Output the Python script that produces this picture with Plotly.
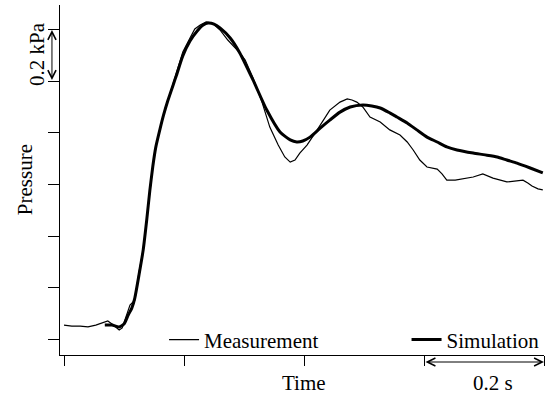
import plotly.graph_objects as go

# Measurement (time in s, pressure in kPa relative)
meas_t = [0.000, 0.013, 0.027, 0.040, 0.053, 0.065, 0.073, 0.080, 0.087, 0.092, 0.097, 0.103,
          0.110, 0.118, 0.125, 0.132, 0.138, 0.143, 0.148, 0.153, 0.160, 0.166, 0.173, 0.187,
          0.198, 0.210,
          0.218, 0.227, 0.237, 0.247, 0.260, 0.273, 0.285, 0.293, 0.302, 0.315, 0.330, 0.343,
          0.357, 0.368, 0.377, 0.385, 0.393, 0.405, 0.422, 0.443, 0.460, 0.472, 0.480, 0.488,
          0.498, 0.510, 0.527, 0.543, 0.560, 0.572, 0.582, 0.593, 0.605, 0.622, 0.630, 0.638,
          0.652, 0.665, 0.682, 0.698, 0.715, 0.738, 0.765, 0.773, 0.780, 0.790, 0.798]
meas_p = [0.054, 0.050, 0.050, 0.047, 0.054, 0.062, 0.070, 0.058, 0.043, 0.035, 0.043, 0.082,
          0.132, 0.151, 0.260, 0.346, 0.465, 0.575, 0.670, 0.745, 0.815, 0.870, 0.925, 1.029,
          1.115, 1.169,
          1.204, 1.219, 1.231, 1.227, 1.200, 1.161, 1.130, 1.111, 1.083, 1.014, 0.920, 0.823,
          0.753, 0.707, 0.687, 0.695, 0.722, 0.753, 0.812, 0.889, 0.920, 0.932, 0.928, 0.920,
          0.901, 0.862, 0.843, 0.812, 0.792, 0.765, 0.734, 0.695, 0.668, 0.660, 0.641, 0.617,
          0.617, 0.621, 0.629, 0.641, 0.625, 0.610, 0.617, 0.606, 0.594, 0.583, 0.579]

# Simulation
sim_t = [0.068, 0.080, 0.092, 0.100, 0.107, 0.113, 0.118, 0.125, 0.132, 0.138, 0.143, 0.148,
         0.153, 0.160, 0.166, 0.173, 0.187, 0.198, 0.210, 0.222, 0.232, 0.240, 0.250, 0.260,
         0.277, 0.293,
         0.315, 0.338, 0.360, 0.377, 0.388, 0.398, 0.410, 0.427, 0.443, 0.460, 0.477, 0.498,
         0.513, 0.527, 0.543, 0.555, 0.572, 0.588, 0.605, 0.622, 0.638, 0.655, 0.682, 0.702,
         0.722, 0.738, 0.755, 0.777, 0.798]
sim_p = [0.054, 0.054, 0.047, 0.058, 0.093, 0.120, 0.159, 0.249, 0.346, 0.465, 0.575, 0.670,
         0.745, 0.815, 0.870, 0.925, 1.021, 1.099, 1.157, 1.196, 1.219, 1.227, 1.223, 1.208,
         1.169, 1.111,
         1.006, 0.889, 0.804, 0.773, 0.765, 0.769, 0.784, 0.819, 0.850, 0.881, 0.901, 0.909,
         0.905, 0.897, 0.878, 0.862, 0.839, 0.812, 0.784, 0.765, 0.746, 0.734, 0.722, 0.715,
         0.707, 0.695, 0.683, 0.664, 0.645]

x_ticks = [0.0, 0.2, 0.4, 0.6, 0.8]
y_ticks = [0.0, 0.2, 0.4, 0.6, 0.8, 1.0, 1.2]

FONT = "Liberation Serif"

fig = go.Figure()
fig.add_trace(go.Scatter(x=meas_t, y=meas_p, mode="lines", name="Measurement",
                         line=dict(color="black", width=1.2), legend="legend"))
fig.add_trace(go.Scatter(x=sim_t, y=sim_p, mode="lines", name="Simulation",
                         line=dict(color="black", width=3, shape="spline", smoothing=0.6),
                         legend="legend2"))

fig.update_layout(
    width=551, height=398,
    margin=dict(l=60, r=7, t=5, b=43),
    paper_bgcolor="white", plot_bgcolor="white",
    font=dict(family=FONT, size=21, color="black"),
    showlegend=True,
    legend=dict(x=0.215, y=0.043, xanchor="left", yanchor="middle", bgcolor="rgba(0,0,0,0)",
                font=dict(family=FONT, size=21), itemwidth=30),
    legend2=dict(x=0.716, y=0.043, xanchor="left", yanchor="middle", bgcolor="rgba(0,0,0,0)",
                 font=dict(family=FONT, size=21), itemwidth=30),
    xaxis=dict(range=[-0.00667, 0.8], showgrid=False, zeroline=False, showline=True,
               linecolor="black", linewidth=1.2, ticks="outside", ticklen=10, tickwidth=1.2,
               tickcolor="black", tickvals=x_ticks, showticklabels=False),
    yaxis=dict(range=[-0.0621, 1.297], showgrid=False, zeroline=False, showline=True,
               linecolor="black", linewidth=1.2, ticks="outside", ticklen=11, tickwidth=1.2,
               tickcolor="black", tickvals=y_ticks, showticklabels=False),
)

# Axis titles as annotations
fig.add_annotation(text="Time", x=0.4, xref="x", y=-0.08, yref="paper",
                   xanchor="center", yanchor="middle",
                   showarrow=False, font=dict(family=FONT, size=21))
fig.add_annotation(text="Pressure", x=-0.0723, xref="paper", y=0.617, yref="y", textangle=-90,
                   xanchor="center", yanchor="middle",
                   showarrow=False, font=dict(family=FONT, size=21))
fig.add_annotation(text="0.2 kPa", x=-0.0475, xref="paper", y=1.107, yref="y", textangle=-90,
                   xanchor="center", yanchor="middle",
                   showarrow=False, font=dict(family=FONT, size=21))
fig.add_annotation(text="0.2 s", x=0.715, xref="x", y=-0.08, yref="paper",
                   xanchor="center", yanchor="middle",
                   showarrow=False, font=dict(family=FONT, size=21))

# Scale bars (double-headed arrows)
fig.add_annotation(x=-0.0166, xref="paper", y=1.2, yref="y", ax=0, ay=51.5,
                   showarrow=True, arrowhead=5, startarrowhead=5, arrowside="end+start",
                   arrowsize=1.6, startarrowsize=1.6, arrowwidth=1, arrowcolor="black", text="",
                   standoff=0, startstandoff=0)
fig.add_annotation(x=0.8, xref="x", y=-0.02, yref="paper", ax=0.6, axref="x", ay=0,
                   showarrow=True, arrowhead=5, startarrowhead=5, arrowside="end+start",
                   arrowsize=1.6, startarrowsize=1.6, arrowwidth=1, arrowcolor="black", text="",
                   standoff=0, startstandoff=0)

fig.write_html("out.html", config={"displayModeBar": False},
               post_script="document.body.style.margin='0';")
